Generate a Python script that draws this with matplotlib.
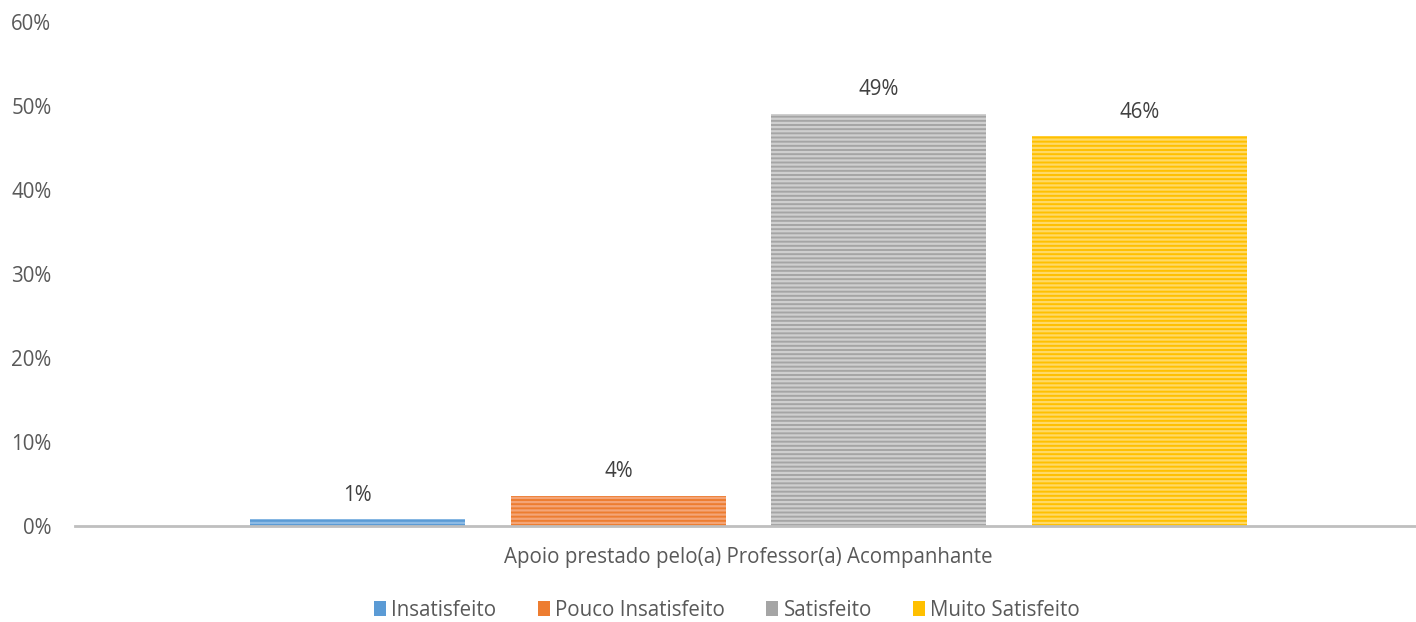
import matplotlib
matplotlib.use("Agg")
import matplotlib.pyplot as plt
import numpy as np

plt.rcParams["font.family"] = ["Open Sans", "DejaVu Sans"]
plt.rcParams["hatch.linewidth"] = 1.6

# ── data ──────────────────────────────────────────────────────────────────────
group_label = "Apoio prestado pelo(a) Professor(a) Acompanhante"
categories = ["Insatisfeito", "Pouco Insatisfeito", "Satisfeito", "Muito Satisfeito"]
values = [0.8, 3.6, 49.1, 46.4]
labels = ["1%", "4%", "49%", "46%"]

colors = ["#5B9BD5", "#ED7D31", "#A5A5A5", "#FFC000"]
stripes = ["#8DBBE5", "#F4A577", "#CFCFCF", "#FFD966"]
text_color = "#595959"
fs = 14.8

fig = plt.figure(figsize=(14.16, 6.22), dpi=100)
ax = fig.add_axes([75 / 1416, 1 - 526 / 622, 1341 / 1416, 504 / 622])

pos = np.arange(len(categories)) - (len(categories) - 1) / 2
width = 0.825
for x, v, lab, cat, c, s in zip(pos, values, labels, categories, colors, stripes):
    ax.bar(x, v, width=width, color=c, label=cat, linewidth=0, zorder=2)
    ax.bar(x, v, width=width, facecolor="none", edgecolor=s, hatch="----",
           linewidth=0, zorder=3)
    ax.text(x, v + 1.6, lab, ha="center", va="bottom", fontsize=fs,
            color="#404040")

ax.set_xlim(-2.586, 2.562)
ax.set_ylim(0, 60)
ax.set_yticks(np.arange(0, 61, 10))
ax.set_yticklabels([f"{t}%" for t in range(0, 61, 10)])
ax.set_xticks([])
ax.tick_params(axis="y", length=0, labelsize=fs, labelcolor=text_color, pad=17)
for side in ("top", "right", "left"):
    ax.spines[side].set_visible(False)
ax.spines["bottom"].set_color("#BFBFBF")
ax.spines["bottom"].set_linewidth(2)

fig.text(748 / 1416, 1 - 558 / 622, group_label, ha="center", va="center",
         fontsize=fs, color=text_color)

handles, lbls = ax.get_legend_handles_labels()
fig.legend(handles, lbls, loc="center", bbox_to_anchor=(727 / 1416, 1 - 610 / 622),
           ncol=4, frameon=False, fontsize=fs, labelcolor=text_color,
           handlelength=0.6, handleheight=0.7, handletextpad=0.25, columnspacing=2.0)

fig.savefig("out.png", dpi=100)
